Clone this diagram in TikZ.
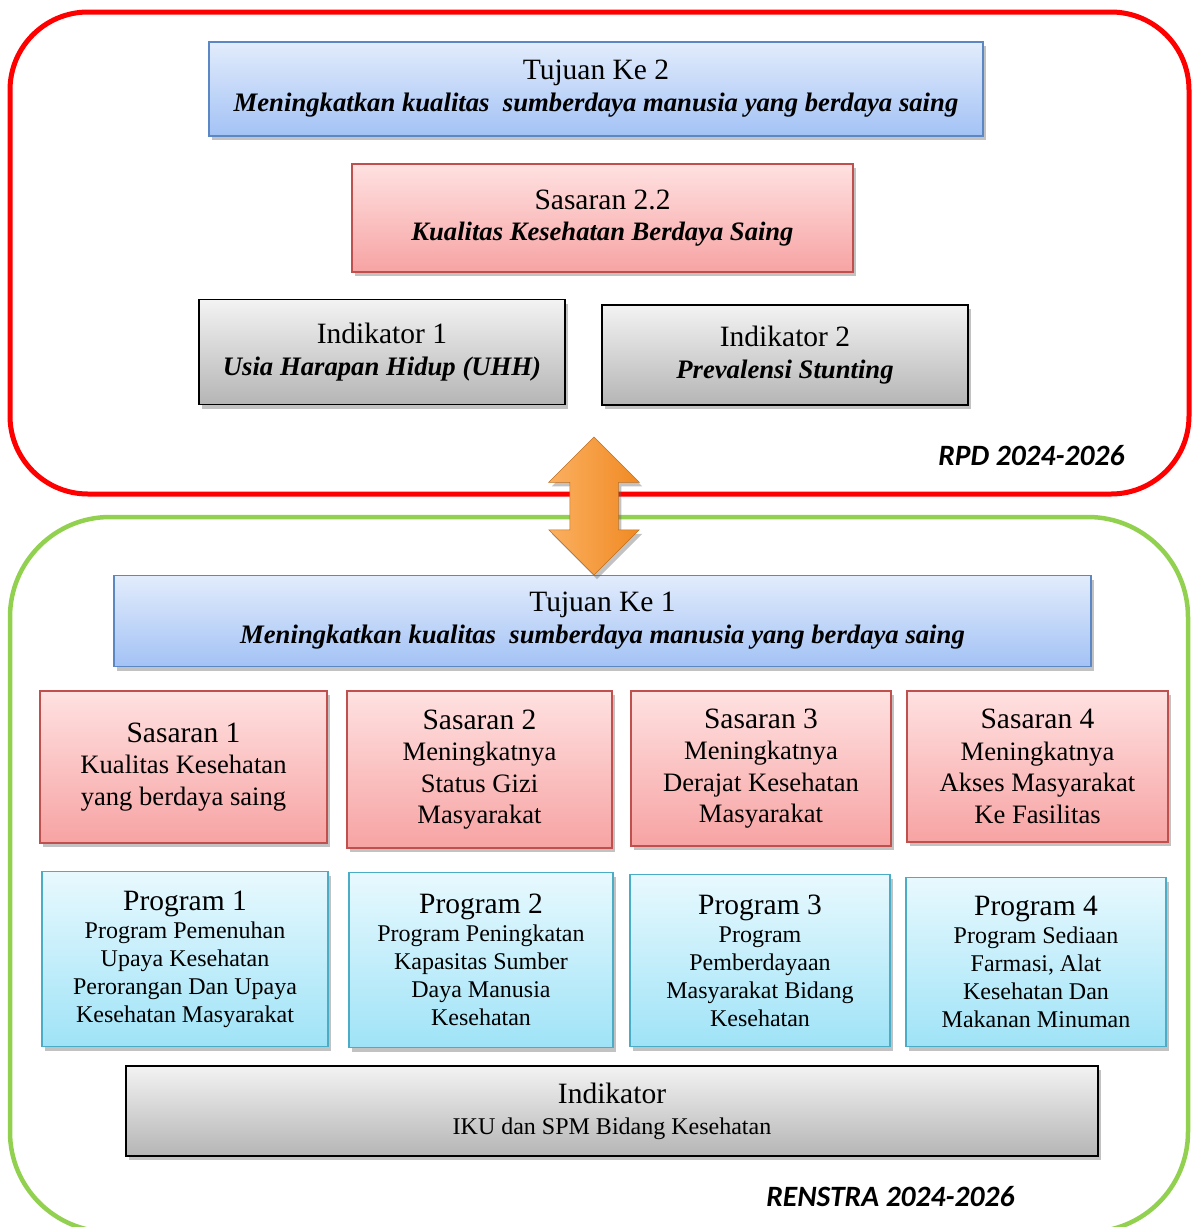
\documentclass[tikz,border=0pt]{standalone}
\usepackage{fontspec}
\setmainfont{Liberation Serif}
\newfontfamily\labelfont{Carlito}
\usetikzlibrary{shapes.arrows, shadows}
\definecolor{goaltop}{HTML}{E2ECFC}
\definecolor{goalbottom}{HTML}{A3C2F5}
\definecolor{goalline}{HTML}{5B87C5}
\definecolor{targettop}{HTML}{FFE1E1}
\definecolor{targetbottom}{HTML}{F7A3A3}
\definecolor{targetline}{HTML}{C0504D}
\definecolor{indtop}{HTML}{F3F3F3}
\definecolor{indbottom}{HTML}{B5B5B5}
\definecolor{progtop}{HTML}{E8F9FE}
\definecolor{progbottom}{HTML}{9FE3F7}
\definecolor{progline}{HTML}{4BACC6}
\definecolor{rpdcolor}{HTML}{FF0000}
\definecolor{renstracolor}{HTML}{92D050}
\definecolor{arrowtop}{HTML}{FBB060}
\definecolor{arrowbottom}{HTML}{F08A24}
\newcommand{\boxtitle}[1]{{\fontsize{29.5}{32}\selectfont #1}}
\tikzset{boxshadow/.style={drop shadow={shadow xshift=3pt, shadow yshift=-4pt, opacity=0.4, fill=black!60}}}
\tikzset{goal/.style={draw=goalline, line width=1.2pt, top color=goaltop, bottom color=goalbottom, align=center, boxshadow, font=\fontsize{26.7}{32}\selectfont}}
\tikzset{target/.style={draw=targetline, line width=1.2pt, top color=targettop, bottom color=targetbottom, align=center, boxshadow, font=\fontsize{26.6}{31.5}\selectfont}}
\tikzset{indicator/.style={draw=black, line width=1.2pt, top color=indtop, bottom color=indbottom, align=center, boxshadow, font=\fontsize{26.7}{32}\selectfont}}
\tikzset{program/.style={draw=progline, line width=1.2pt, top color=progtop, bottom color=progbottom, align=center, boxshadow, font=\fontsize{24}{28}\selectfont}}
\tikzset{period/.style={font=\labelfont\fontsize{29.5}{32}\selectfont\bfseries\itshape, anchor=base east}}

\begin{document}
\begin{tikzpicture}[x=1pt, y=-1pt]
	\useasboundingbox (0,0) rectangle (1192,1227);
	
	%%% FRAMES %%%
	\draw[draw=rpdcolor, line width=5pt, rounded corners=78pt] (10,12) rectangle (1189,494);
	\draw[draw=renstracolor, line width=4.5pt, rounded corners=100pt] (10,517) rectangle (1188,1232);
	\node[period] at (1128,465) (rpd) {RPD 2024-2026};
	\node[period] at (1018,1206) (renstra) {RENSTRA 2024-2026};
	
	%%% NODES %%%
	
	% RPD
	\node[goal, minimum width=774pt, minimum height=94pt] at (596,89) (tujuan2) {\boxtitle{Tujuan Ke 2}\\ \textbf{\textit{Meningkatkan kualitas\ \ sumberdaya manusia yang berdaya saing}}};
	\node[target, minimum width=501pt, minimum height=108pt] at (602.5,218) (sasaran22) {\boxtitle{Sasaran 2.2}\\ \textbf{\textit{Kualitas Kesehatan Berdaya Saing}}};
	\node[indicator, minimum width=366pt, minimum height=105pt] at (382,352) (indikator1) {\boxtitle{Indikator 1}\\ \textbf{\textit{Usia Harapan Hidup (UHH)}}};
	\node[indicator, minimum width=366pt, minimum height=100pt] at (785,355) (indikator2) {\boxtitle{Indikator 2}\\ \textbf{\textit{Prevalensi Stunting}}};
	
	% RENSTRA
	\node[goal, minimum width=977pt, minimum height=91pt] at (602.5,621) (tujuan1) {\boxtitle{Tujuan Ke 1}\\ \textbf{\textit{Meningkatkan kualitas\ \ sumberdaya manusia yang berdaya saing}}};
	
	\node[target, minimum width=287pt, minimum height=152pt] at (183.5,767) (sasaran1) {\boxtitle{Sasaran 1}\\ Kualitas Kesehatan\\ yang berdaya saing};
	\node[target, minimum width=265pt, minimum height=157pt] at (479.5,769.5) (sasaran2) {\boxtitle{Sasaran 2}\\ Meningkatnya\\ Status Gizi\\ Masyarakat};
	\node[target, minimum width=260pt, minimum height=155pt] at (761,768.5) (sasaran3) {\boxtitle{Sasaran 3}\\ Meningkatnya\\ Derajat Kesehatan\\ Masyarakat};
	\node[target, minimum width=261pt, minimum height=151pt] at (1037.5,766.5) (sasaran4) {\boxtitle{Sasaran 4}\\ Meningkatnya\\ Akses Masyarakat\\ Ke Fasilitas};
	
	\node[program, minimum width=286pt, minimum height=175pt] at (185,959) (program1) {\boxtitle{Program 1}\\ Program Pemenuhan\\ Upaya Kesehatan\\ Perorangan Dan Upaya\\ Kesehatan Masyarakat};
	\node[program, minimum width=264pt, minimum height=175pt] at (481,960) (program2) {\boxtitle{Program 2}\\ Program Peningkatan\\ Kapasitas Sumber\\ Daya Manusia\\ Kesehatan};
	\node[program, minimum width=260pt, minimum height=172pt] at (760,960.5) (program3) {\boxtitle{Program 3}\\ Program\\ Pemberdayaan\\ Masyarakat Bidang\\ Kesehatan};
	\node[program, minimum width=260pt, minimum height=169pt] at (1036,962) (program4) {\boxtitle{Program 4}\\ Program Sediaan\\ Farmasi, Alat\\ Kesehatan Dan\\ Makanan Minuman};
	
	\node[indicator, minimum width=972pt, minimum height=90pt, font=\fontsize{24}{31}\selectfont] at (612,1111) (indikator) {\boxtitle{Indikator}\\ IKU dan SPM Bidang Kesehatan};
	
	% LINK
	\node[double arrow, rotate=90, minimum height=138pt, minimum width=90pt, double arrow head extend=21pt, inner sep=24pt, draw=arrowbottom!80!black, line width=0.5pt, left color=arrowtop, right color=arrowbottom, boxshadow] at (594,506) (link) {};
	
\end{tikzpicture}
\end{document}
